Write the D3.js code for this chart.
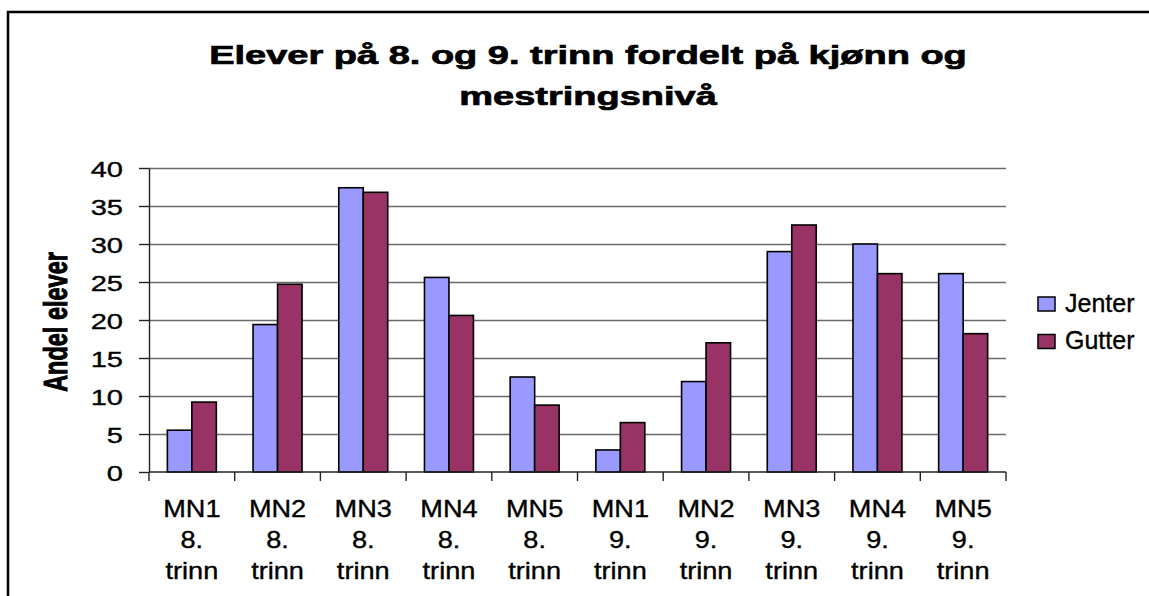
<!DOCTYPE html>
<html>
<head>
<meta charset="utf-8">
<script src="https://cdn.jsdelivr.net/npm/d3@7"></script>
<style>
  body { margin: 0; background: #fff; }
  text { font-family: "Liberation Sans", Arial, sans-serif; fill: #000; stroke: #000; stroke-width: 0.35; }
  text.bold { stroke-width: 0.7; }
</style>
</head>
<body>
<svg id="chart" width="1149" height="596"></svg>
<script>
// data
const titleLines = ["Elever på 8. og 9. trinn fordelt på kjønn og", "mestringsnivå"];
const categories = ["MN1 8.", "MN2 8.", "MN3 8.", "MN4 8.", "MN5 8.",
                    "MN1 9.", "MN2 9.", "MN3 9.", "MN4 9.", "MN5 9."];
const seriesNames = ["Jenter", "Gutter"];
const jenter = [5.5, 19.4, 37.4, 25.6, 12.5, 2.9, 11.9, 29.0, 30.0, 26.1];
const gutter = [9.2, 24.7, 36.8, 20.6, 8.8, 6.5, 17.0, 32.5, 26.1, 18.2];
const yTicks = [0, 5, 10, 15, 20, 25, 30, 35, 40];
const yTitle = "Andel elever";

const colors = { Jenter: "#9999ff", Gutter: "#993366" };
const seriesValues = { Jenter: jenter, Gutter: gutter };

const svg = d3.select("#chart");
const plot = { left: 149, right: 1006, top: 168, bottom: 472 };

// outer frame (runs off the right/bottom edge in the source)
svg.append("rect")
   .attr("x", 8).attr("y", 12)
   .attr("width", 1300).attr("height", 800)
   .attr("fill", "none").attr("stroke", "#000").attr("stroke-width", 2.5);

const x0 = d3.scaleBand().domain(categories).range([plot.left, plot.right]).padding(0);
const x1 = d3.scaleBand().domain(seriesNames).range([0, x0.bandwidth()])
             .paddingInner(0).paddingOuter(0.75);
const y = d3.scaleLinear().domain([0, 40]).range([plot.bottom, plot.top]);

// gridlines
svg.append("g")
   .attr("transform", `translate(${plot.left},0)`)
   .call(d3.axisLeft(y).tickValues(yTicks.slice(1)).tickSize(-(plot.right - plot.left)).tickFormat(""))
   .call(g => g.select(".domain").remove())
   .call(g => g.selectAll("line").attr("stroke", "#6a6a6a").attr("stroke-width", 1.4));

// y axis
svg.append("g")
   .attr("transform", `translate(${plot.left},0)`)
   .call(d3.axisLeft(y).tickValues(yTicks).tickSize(10).tickSizeOuter(0).tickFormat(""))
   .call(g => g.select(".domain").attr("stroke", "#222").attr("stroke-width", 1.4))
   .call(g => g.selectAll("line").attr("stroke", "#222").attr("stroke-width", 1.4));

svg.append("g").selectAll("text")
   .data(yTicks)
   .join("text")
   .attr("text-anchor", "end")
   .attr("font-size", 22)
   .attr("transform", d => `translate(123,${y(d) + 8.5}) scale(1.32,1)`)
   .text(d => d);

// bars
const groups = svg.append("g").selectAll("g")
   .data(categories)
   .join("g")
   .attr("transform", d => `translate(${x0(d)},0)`);

groups.selectAll("rect")
   .data((d, i) => seriesNames.map(s => ({ s, v: seriesValues[s][i] })))
   .join("rect")
   .attr("x", d => x1(d.s))
   .attr("y", d => y(d.v))
   .attr("width", x1.bandwidth())
   .attr("height", d => y(0) - y(d.v))
   .attr("fill", d => colors[d.s])
   .attr("stroke", "#000")
   .attr("stroke-width", 1.6);

// x axis line + boundary ticks
const boundaries = categories.map(c => x0(c)).concat([plot.right]);
svg.append("line")
   .attr("x1", plot.left).attr("x2", plot.right)
   .attr("y1", y(0)).attr("y2", y(0))
   .attr("stroke", "#222").attr("stroke-width", 1.4);
svg.append("g").selectAll("line")
   .data(boundaries)
   .join("line")
   .attr("x1", d => d).attr("x2", d => d)
   .attr("y1", y(0)).attr("y2", y(0) + 9)
   .attr("stroke", "#222").attr("stroke-width", 1.4);

// category labels, three lines each
const catLabels = svg.append("g").selectAll("g")
   .data(categories)
   .join("g")
   .attr("transform", d => `translate(${x0(d) + x0.bandwidth() / 2},0)`);
catLabels.selectAll("text")
   .data(d => d.split(" ").concat(["trinn"]))
   .join("text")
   .attr("text-anchor", "middle")
   .attr("font-size", 23)
   .attr("transform", (d, i) => `translate(0,${517 + i * 31}) scale(1.18,1)`)
   .text(d => d);

// title
svg.append("g").selectAll("text")
   .data(titleLines)
   .join("text")
   .attr("class", "bold")
   .attr("text-anchor", "middle")
   .attr("font-size", 25.5)
   .attr("font-weight", "bold")
   .attr("transform", (d, i) => `translate(588,${63.5 + i * 41}) scale(1.49,1)`)
   .text(d => d);

// y axis title
svg.append("text")
   .attr("class", "bold")
   .attr("text-anchor", "middle")
   .attr("font-size", 23.5)
   .attr("font-weight", "bold")
   .attr("transform", "translate(67,322) rotate(-90) scale(1,1.42)")
   .text(yTitle);

// legend
const legend = svg.append("g").attr("transform", "translate(1038,297)");
const legendItems = legend.selectAll("g")
   .data(seriesNames)
   .join("g")
   .attr("transform", (d, i) => `translate(0,${i * 37.5})`);
legendItems.append("rect")
   .attr("width", 17).attr("height", 14)
   .attr("fill", d => colors[d])
   .attr("stroke", "#000").attr("stroke-width", 1.5);
legendItems.append("text")
   .attr("x", 27).attr("y", 14.5)
   .attr("font-size", 25)
   .text(d => d);
</script>
</body>
</html>
